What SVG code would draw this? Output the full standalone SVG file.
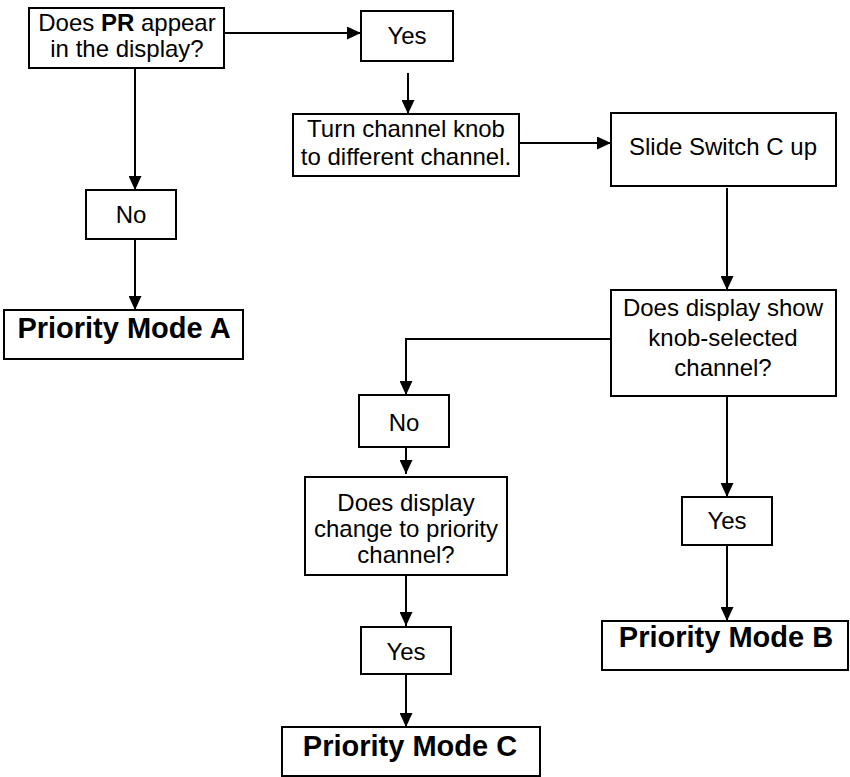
<svg xmlns="http://www.w3.org/2000/svg" width="850" height="777" viewBox="0 0 850 777">
<style>
.box{fill:#fff;stroke:#000;stroke-width:2}
.t{font-family:"Liberation Sans",Arial,sans-serif;font-size:24px;fill:#000;text-anchor:middle}
.b{font-family:"Liberation Sans",Arial,sans-serif;font-size:29px;font-weight:bold;fill:#000;text-anchor:middle}
.c{fill:none;stroke:#000;stroke-width:2;marker-end:url(#ah)}
</style>
<defs>
<marker id="ah" markerUnits="userSpaceOnUse" markerWidth="15" markerHeight="13" refX="14" refY="6.5" orient="auto">
<path d="M0,0 L14,6.5 L0,13 z" fill="#000"/>
</marker>
</defs>
<rect width="850" height="777" fill="#fff"/>
<g id="connectors">
<line class="c" x1="224" y1="33" x2="361" y2="33"/>
<line class="c" x1="135" y1="68" x2="135" y2="190"/>
<line class="c" x1="135" y1="239" x2="135" y2="310"/>
<line class="c" x1="408" y1="73" x2="408" y2="114"/>
<line class="c" x1="519" y1="143" x2="611" y2="143"/>
<line class="c" x1="727" y1="188" x2="727" y2="290"/>
<path class="c" d="M611,339 H406 V395"/>
<line class="c" x1="406" y1="447" x2="406" y2="474"/>
<line class="c" x1="406" y1="575" x2="406" y2="626"/>
<line class="c" x1="406" y1="674" x2="406" y2="727"/>
<line class="c" x1="727" y1="396" x2="727" y2="497"/>
<line class="c" x1="727" y1="545" x2="727" y2="621"/>
</g>
<g id="q1">
<rect class="box" x="29" y="8" width="195" height="60"/>
<text class="t" x="127" y="31">Does <tspan font-weight="bold">PR</tspan> appear</text>
<text class="t" x="127" y="57">in the display?</text>
</g>
<g id="yes1">
<rect class="box" x="361" y="11" width="92" height="50"/>
<text class="t" x="407" y="44">Yes</text>
</g>
<g id="no1">
<rect class="box" x="86" y="190" width="90" height="49"/>
<text class="t" x="131" y="223">No</text>
</g>
<g id="modeA">
<rect class="box" x="4" y="310" width="239" height="49"/>
<text class="b" x="124" y="338">Priority Mode A</text>
</g>
<g id="turn">
<rect class="box" x="293" y="114" width="226" height="62"/>
<text class="t" x="406" y="137">Turn channel knob</text>
<text class="t" x="406" y="165">to different channel.</text>
</g>
<g id="slide">
<rect class="box" x="611" y="113" width="225" height="73"/>
<text class="t" x="723" y="155">Slide Switch C up</text>
</g>
<g id="q2">
<rect class="box" x="611" y="290" width="225" height="106"/>
<text class="t" x="723" y="316">Does display show</text>
<text class="t" x="723" y="346">knob-selected</text>
<text class="t" x="723" y="376">channel?</text>
</g>
<g id="no2">
<rect class="box" x="359" y="395" width="90" height="52"/>
<text class="t" x="404" y="431">No</text>
</g>
<g id="q3">
<rect class="box" x="305" y="477" width="202" height="98"/>
<text class="t" x="406" y="511">Does display</text>
<text class="t" x="406" y="537">change to priority</text>
<text class="t" x="406" y="563">channel?</text>
</g>
<g id="yes3">
<rect class="box" x="361" y="627" width="90" height="47"/>
<text class="t" x="406" y="660">Yes</text>
</g>
<g id="modeC">
<rect class="box" x="282" y="727" width="258" height="49"/>
<text class="b" x="410" y="756">Priority Mode C</text>
</g>
<g id="yes2">
<rect class="box" x="682" y="497" width="90" height="48"/>
<text class="t" x="727" y="529">Yes</text>
</g>
<g id="modeB">
<rect class="box" x="602" y="621" width="246" height="49"/>
<text class="b" x="726" y="647">Priority Mode B</text>
</g>
</svg>
